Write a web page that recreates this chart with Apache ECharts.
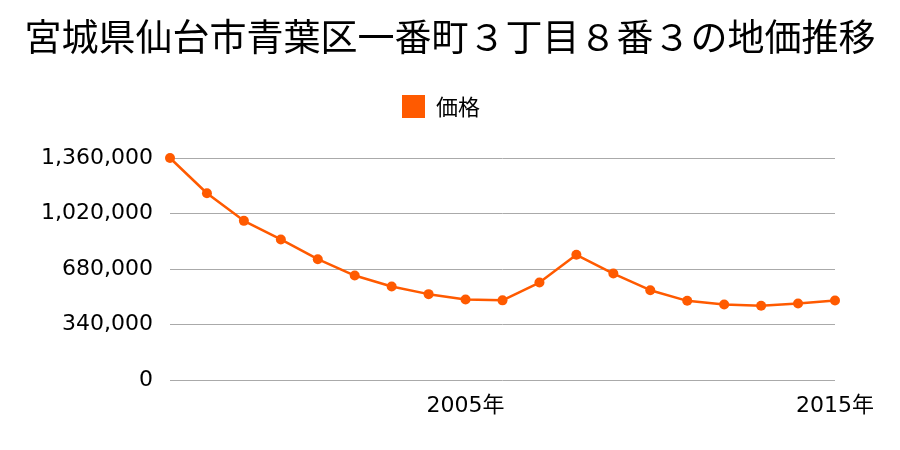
<!DOCTYPE html>
<html><head><meta charset="utf-8">
<script src="https://cdn.jsdelivr.net/npm/echarts@6/dist/echarts.min.js"></script>
<style>html,body{margin:0;padding:0;background:#fff}#c{width:900px;height:450px}</style>
</head><body><div id="c"></div>
<script>
const titleText = '宮城県仙台市青葉区一番町３丁目８番３の地価推移';
const seriesName = '価格';
const years = ['1997','1998','1999','2000','2001','2002','2003','2004','2005','2006','2007','2008','2009','2010','2011','2012','2013','2014','2015'];
const prices = [1360000,1144000,975000,861000,740000,640000,573000,526000,493000,488000,597000,767000,652000,550000,485000,462000,455000,469000,487000];
const shownYears = ['2005','2015'];
const yMax = 1360000;
const yInterval = 340000;

const cjk = '"Noto Sans CJK JP", sans-serif';
const num = '"DejaVu Sans", "Noto Sans CJK JP", sans-serif';
const chart = echarts.init(document.getElementById('c'), null, {renderer:'canvas'});
chart.setOption({
  animation:false,
  backgroundColor:'#fff',
  title:{text:titleText,left:'center',top:13,textStyle:{fontFamily:cjk,fontSize:37,fontWeight:'normal',color:'#000'}},
  legend:{data:[seriesName],top:90,left:397,itemWidth:23,itemHeight:23,icon:'rect',itemGap:10,
    textStyle:{fontFamily:cjk,fontSize:22,color:'#000',padding:[0,0,0,6]}},
  grid:{left:170,right:65,top:158,bottom:70},
  xAxis:{type:'category',data:years,boundaryGap:false,
    axisLine:{show:false},axisTick:{show:false},splitLine:{show:false},
    axisLabel:{interval:0,margin:15,fontFamily:num,fontSize:22,color:'#000',
      formatter:(v)=>shownYears.includes(v)?v+'年':''}},
  yAxis:{type:'value',min:0,max:yMax,interval:yInterval,
    axisLine:{show:false},axisTick:{show:false},
    splitLine:{lineStyle:{color:'#aaaaaa',width:1}},
    axisLabel:{margin:17,fontFamily:num,fontSize:22,color:'#000',padding:[3,0,0,0],
      formatter:(v)=>v.toLocaleString('en-US')}},
  series:[{name:seriesName,type:'line',data:prices,color:'#ff5a00',
    symbol:'circle',symbolSize:10,lineStyle:{width:2.5,color:'#ff5a00'},itemStyle:{color:'#ff5a00'}}]
});
</script></body></html>
